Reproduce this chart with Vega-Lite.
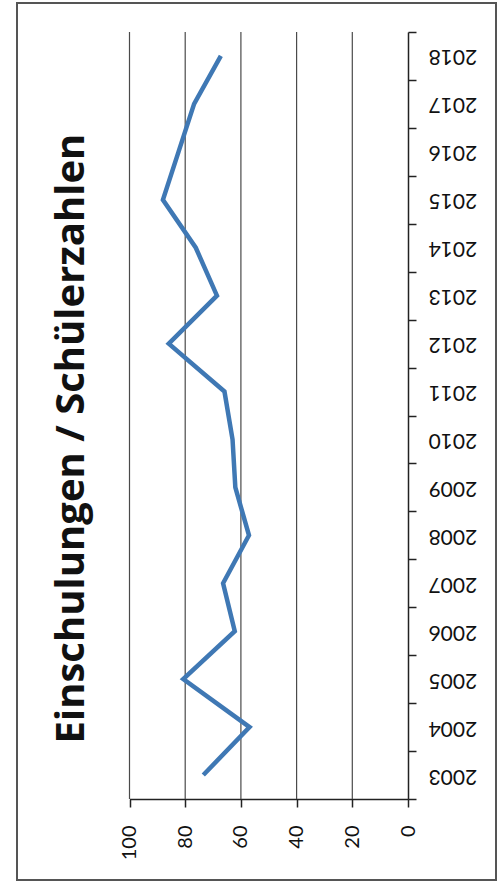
{
  "$schema": "https://vega.github.io/schema/vega-lite/v6.json",
  "width": 479,
  "height": 877,
  "autosize": "none",
  "padding": {"left": 17, "top": 3, "right": 2, "bottom": 5},
  "background": "white",
  "config": {
    "view": {"stroke": "#555555", "strokeWidth": 2},
    "font": "Lato"
  },
  "title": {
    "text": "Einschulungen / Schülerzahlen",
    "orient": "left",
    "anchor": "middle",
    "font": "Open Sans",
    "fontSize": 40,
    "fontWeight": "bold",
    "color": "#111111",
    "offset": -75,
    "dx": 3
  },
  "datasets": {
    "series": [
      {"year": 2003, "value": 73.5},
      {"year": 2004, "value": 56.9},
      {"year": 2005, "value": 80.7},
      {"year": 2006, "value": 62.2},
      {"year": 2007, "value": 66.4},
      {"year": 2008, "value": 57.1},
      {"year": 2009, "value": 62.0},
      {"year": 2010, "value": 63.0},
      {"year": 2011, "value": 65.9},
      {"year": 2012, "value": 85.9},
      {"year": 2013, "value": 68.6},
      {"year": 2014, "value": 76.2},
      {"year": 2015, "value": 88.0},
      {"year": 2016, "value": 82.4},
      {"year": 2017, "value": 76.8},
      {"year": 2018, "value": 67.2}
    ],
    "grid": [
      {"value": 20},
      {"value": 40},
      {"value": 60},
      {"value": 80},
      {"value": 100}
    ]
  },
  "layer": [
    {
      "data": {"name": "grid"},
      "mark": {"type": "rule", "color": "#4a4a4a", "strokeWidth": 1.2},
      "encoding": {
        "x": {
          "field": "value",
          "type": "quantitative",
          "scale": {"domain": [0, 100], "range": [391, 112.5], "nice": false, "zero": false},
          "axis": {
            "orient": "bottom",
            "offset": -81,
            "values": [0, 20, 40, 60, 80, 100],
            "grid": false,
            "title": null,
            "domainColor": "#222222",
            "domainWidth": 1.5,
            "tickColor": "#222222",
            "tickWidth": 1.5,
            "tickSize": 8,
            "labelAngle": -90,
            "labelAlign": "right",
            "labelBaseline": "middle",
            "labelFont": "Lato",
            "labelFontSize": 20,
            "labelColor": "#111111",
            "labelPadding": 18,
            "labelFlush": false,
            "labelOverlap": false
          }
        },
        "y": {
          "datum": 2002.5,
          "type": "quantitative",
          "scale": {"domain": [2002.5, 2018.5], "range": [796, 29], "nice": false, "zero": false},
          "axis": {
            "orient": "right",
            "offset": -88,
            "values": [2002.5, 2003.5, 2004.5, 2005.5, 2006.5, 2007.5, 2008.5, 2009.5, 2010.5, 2011.5, 2012.5, 2013.5, 2014.5, 2015.5, 2016.5, 2017.5, 2018.5],
            "labelExpr": "datum.value < 2018 ? format(datum.value + 0.5, 'd') : ''",
            "labelOffset": -24,
            "labelAngle": 180,
            "labelAlign": "right",
            "labelBaseline": "middle",
            "labelPadding": 12,
            "labelFont": "Lato",
            "labelFontSize": 21,
            "labelColor": "#111111",
            "labelFlush": false,
            "labelOverlap": false,
            "grid": false,
            "title": null,
            "domainColor": "#222222",
            "domainWidth": 1.5,
            "tickColor": "#222222",
            "tickWidth": 1.5,
            "tickSize": 8
          }
        },
        "y2": {"datum": 2018.5}
      }
    },
    {
      "data": {"name": "series"},
      "mark": {"type": "line", "color": "#3f78b4", "strokeWidth": 4.5, "strokeJoin": "miter"},
      "encoding": {
        "x": {
          "field": "value",
          "type": "quantitative",
          "scale": {"domain": [0, 100], "range": [391, 112.5], "nice": false, "zero": false}
        },
        "y": {
          "field": "year",
          "type": "quantitative",
          "scale": {"domain": [2002.5, 2018.5], "range": [796, 29], "nice": false, "zero": false}
        },
        "order": {"field": "year", "type": "quantitative"}
      }
    }
  ]
}
